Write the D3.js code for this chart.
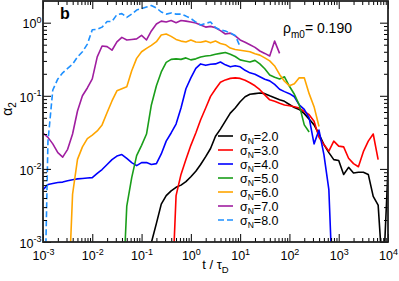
<!DOCTYPE html>
<html>
<head>
<meta charset="utf-8">
<script src="https://cdn.jsdelivr.net/npm/d3@7"></script>
<style>
body { margin: 0; background: #fff; }
svg text { font-family: "Liberation Sans", Arial, Helvetica, sans-serif; }
</style>
</head>
<body>
<div id="chart"></div>
<script>
// time grid t / tau_D (10 points per decade)
var times = [0.001,0.00126,0.00158,0.00200,0.00251,0.00316,0.00398,0.00501,0.00631,0.00794,
  0.0100,0.0126,0.0158,0.0200,0.0251,0.0316,0.0398,0.0501,0.0631,0.0794,
  0.100,0.126,0.158,0.200,0.251,0.316,0.398,0.501,0.631,0.794,
  1.00,1.26,1.58,2.00,2.51,3.16,3.98,5.01,6.31,7.94,
  10.0,12.6,15.8,20.0,25.1,31.6,39.8,50.1,63.1,79.4,
  100,126,158,200,251,316,398,501,631,794,
  1000,1259,1585,1995,2512,3162,3981,5012,6310,7943,
  10000];

// alpha_2 for each sigma_N (null = no data)
var sig20 = [null,null,null,null,null,null,null,null,null,null,
  null,null,null,null,null,null,null,null,null,null,
  null,null,0.00098,0.0018,0.0033,0.0043,0.0050,0.0056,0.0060,0.0067,
  0.0078,0.0093,0.0115,0.0147,0.019,0.028,0.035,0.045,0.058,0.068,
  0.083,0.097,0.105,0.107,0.109,0.107,0.100,0.094,0.088,0.084,
  0.076,0.069,0.065,0.057,0.048,0.040,0.030,0.0215,0.0167,0.0134,
  0.0130,0.0084,0.0105,0.0088,0.0090,0.0090,0.0084,0.0042,0.0032,0.0003,
  0.0098];
var sig30 = [null,null,null,null,null,null,null,null,null,null,
  null,null,null,null,null,null,null,null,null,null,
  null,null,null,null,null,null,0.0001,0.0043,0.0084,0.0134,
  0.021,0.031,0.047,0.068,0.098,0.124,0.153,0.165,0.173,0.176,
  0.173,0.163,0.151,0.137,0.121,0.103,0.088,0.084,0.079,0.075,
  0.073,0.071,0.068,0.061,0.055,0.045,0.027,0.0215,0.0175,0.024,
  0.0205,0.020,0.014,0.0118,0.0107,0.0172,0.024,0.030,0.0134,null,
  null];
var sig40 = [0.0052,0.0061,0.0063,0.0065,0.0066,0.0069,0.0071,0.0073,0.0074,0.0075,
  0.0076,0.0087,0.0098,0.0115,0.0134,0.0150,0.0157,0.0139,0.0122,0.0111,
  0.0122,0.0122,0.0115,0.0118,0.016,0.024,0.031,0.041,0.068,0.125,
  0.176,0.237,0.273,0.261,0.270,0.273,0.290,0.265,0.249,0.257,
  0.249,0.223,0.206,0.197,0.182,0.168,0.160,0.143,0.123,0.114,
  0.107,0.097,0.075,0.065,0.050,0.022,0.034,0.0157,0.0052,0.0001,
  null,null,null,null,null,null,null,null,null,null,
  null];
var sig50 = [null,null,null,null,null,null,null,null,null,null,
  null,null,null,null,null,null,0.0001,0.0031,0.0076,0.0152,
  0.021,0.030,0.075,0.137,0.212,0.287,0.315,0.320,0.315,0.330,
  0.310,0.320,0.340,0.350,0.355,0.370,0.380,0.390,0.370,0.345,
  0.310,0.300,0.290,0.305,0.273,0.234,0.193,0.179,0.170,0.182,
  0.135,0.105,0.075,0.040,0.032,null,null,null,null,null,
  null,null,null,null,null,null,null,null,null,null,
  null];
var sig60 = [null,null,null,null,null,0.0001,0.0045,0.0135,0.020,0.026,
  0.029,0.033,0.040,0.059,0.085,0.117,0.125,0.133,0.22,0.325,
  0.40,0.445,0.49,0.55,0.68,0.70,0.65,0.59,0.56,0.545,
  0.58,0.545,0.54,0.56,0.53,0.56,0.52,0.50,0.45,0.43,
  0.42,0.41,0.40,0.375,0.36,0.33,0.30,0.256,0.196,0.158,
  0.137,0.146,0.176,0.176,0.107,0.071,0.038,null,null,null,
  null,null,null,null,null,null,null,null,null,null,
  null];
var sig70 = [0.031,0.027,0.022,0.0167,0.0145,0.0185,0.030,0.062,0.100,0.128,
  0.170,0.34,0.48,0.47,0.42,0.545,0.63,0.58,0.59,0.60,
  0.67,0.58,0.77,0.96,1.05,1.02,1.07,1.00,1.07,1.05,
  1.02,0.99,0.93,0.87,0.89,0.85,0.78,0.70,0.72,0.66,
  0.58,0.54,0.50,0.46,0.41,0.38,0.35,0.56,0.38,null,
  null,null,null,null,null,null,null,null,null,null,
  null,null,null,null,null,null,null,null,null,null,
  null];
var sig80 = [0.00001,0.0237,0.12,0.17,0.206,0.237,0.27,0.34,0.40,0.51,
  0.80,0.81,0.87,1.04,1.04,1.29,1.33,1.18,1.31,1.49,
  1.56,1.64,1.72,1.59,1.40,1.31,1.36,1.31,1.31,1.23,
  1.14,1.02,0.93,0.98,1.02,0.86,0.795,0.77,0.72,0.67,
  0.47,null,null,null,null,null,null,null,null,null,
  null,null,null,null,null,null,null,null,null,null,
  null,null,null,null,null,null,null,null,null,null,
  null];

var sigmaLabels = ["2.0","3.0","4.0","5.0","6.0","7.0","8.0"];
var xTickExp = [-3,-2,-1,0,1,2,3,4];
var yTickExp = [-3,-2,-1,0];
var rhoValue = "0.190";

var allSeries = [sig20, sig30, sig40, sig50, sig60, sig70, sig80];
var colors = ["#000000","#ff0000","#0000ff","#1a9e1a","#ffa500","#a01ea0","#1e90ff"];
var dashes = [null,null,null,null,null,null,"6,3"];

var width = 399, height = 281;
var pLeft = 43, pRight = 388, pTop = 1, pBottom = 242;

var svg = d3.select("#chart").append("svg").attr("width", width).attr("height", height);

var x = d3.scaleLog().domain([1e-3, 1e4]).range([pLeft, pRight]);
var y = d3.scaleLog().domain([1e-3, 1.98]).range([pBottom, pTop]);

var xMajor = xTickExp.map(function(e){ return Math.pow(10, e); });
var yMajor = yTickExp.map(function(e){ return Math.pow(10, e); });
function isMajor(v){ return Math.abs(Math.log10(v) - Math.round(Math.log10(v))) < 1e-6; }
var xMinor = x.ticks().filter(function(v){ return !isMajor(v); });
var yMinor = y.ticks().filter(function(v){ return !isMajor(v) && v < 1.98; });

svg.append("clipPath").attr("id","clip").append("rect")
  .attr("x", pLeft).attr("y", pTop).attr("width", pRight-pLeft).attr("height", pBottom-pTop);

var line = d3.line()
  .defined(function(d){ return d[1] != null; })
  .x(function(d){ return x(d[0]); })
  .y(function(d){ return y(d[1]); });

var curves = svg.append("g").attr("clip-path","url(#clip)");
allSeries.forEach(function(vals, i){
  var pts = times.map(function(t, k){ return [t, vals[k]]; });
  curves.append("path").datum(pts)
    .attr("fill","none")
    .attr("stroke", colors[i])
    .attr("stroke-width", 1.6)
    .attr("stroke-dasharray", dashes[i])
    .attr("stroke-linejoin","round")
    .attr("d", line);
});

// axes, ticks inward on all four sides
function styleAxis(g){
  g.select(".domain").remove();
  g.selectAll(".tick line").attr("stroke","#000").attr("stroke-width",1);
}
svg.append("g").attr("transform","translate(0,"+pBottom+")")
  .call(d3.axisBottom(x).tickValues(xMinor).tickSize(-4).tickFormat("")).call(styleAxis);
svg.append("g").attr("transform","translate(0,"+pTop+")")
  .call(d3.axisTop(x).tickValues(xMinor).tickSize(-4).tickFormat("")).call(styleAxis);
svg.append("g").attr("transform","translate(0,"+pTop+")")
  .call(d3.axisTop(x).tickValues(xMajor).tickSize(-8).tickFormat("")).call(styleAxis);
svg.append("g").attr("transform","translate("+pLeft+",0)")
  .call(d3.axisLeft(y).tickValues(yMinor).tickSize(-4).tickFormat("")).call(styleAxis);
svg.append("g").attr("transform","translate("+pRight+",0)")
  .call(d3.axisRight(y).tickValues(yMinor).tickSize(-4).tickFormat("")).call(styleAxis);
svg.append("g").attr("transform","translate("+pRight+",0)")
  .call(d3.axisRight(y).tickValues(yMajor).tickSize(-8).tickFormat("")).call(styleAxis);

var xAx = svg.append("g").attr("transform","translate(0,"+pBottom+")")
  .call(d3.axisBottom(x).tickValues(xMajor).tickSize(-8).tickPadding(9.5).tickFormat(function(){ return ""; }))
  .call(styleAxis);
xAx.selectAll(".tick text").attr("font-size",12.5).attr("fill","#000")
  .each(function(d){
    var t = d3.select(this);
    t.append("tspan").text("10");
    t.append("tspan").attr("dy",-5.5).attr("font-size",9).text(Math.round(Math.log10(d)));
  });

var yAx = svg.append("g").attr("transform","translate("+pLeft+",0)")
  .call(d3.axisLeft(y).tickValues(yMajor).tickSize(-8).tickPadding(1.5).tickFormat(function(){ return ""; }))
  .call(styleAxis);
yAx.selectAll(".tick text").attr("font-size",12.5).attr("fill","#000")
  .attr("dy","0.42em")
  .each(function(d){
    var t = d3.select(this);
    t.append("tspan").text("10");
    t.append("tspan").attr("dy",-5.5).attr("font-size",9).text(Math.round(Math.log10(d)));
  });
svg.selectAll("g").attr("font-family", null);

svg.append("rect").attr("x",pLeft).attr("y",pTop).attr("width",pRight-pLeft).attr("height",pBottom-pTop)
  .attr("fill","none").attr("stroke","#222").attr("stroke-width",1.8);

// axis titles
var xt = svg.append("text").attr("x",(pLeft+pRight)/2).attr("y",269).attr("text-anchor","middle").attr("font-size",13);
xt.append("tspan").text("t / \u03c4");
xt.append("tspan").attr("dy",4).attr("font-size",9.5).text("D");

var yt = svg.append("text").attr("transform","translate(12,109) rotate(-90)").attr("text-anchor","middle").attr("font-size",14);
yt.append("tspan").text("\u03b1");
yt.append("tspan").attr("dy",4).attr("font-size",10).text("2");

svg.append("text").attr("x",60).attr("y",19).attr("font-size",16).attr("font-weight","bold").text("b");

var rt = svg.append("text").attr("x",283).attr("y",33).attr("font-size",14);
rt.append("tspan").text("\u03c1");
rt.append("tspan").attr("dy",4.5).attr("font-size",10).text("m0");
rt.append("tspan").attr("dy",-4.5).text("= " + rhoValue);

// legend
var leg = svg.append("g");
sigmaLabels.forEach(function(lab, i){
  var yy = 136 + 14*i;
  leg.append("line").attr("x1",218).attr("x2",233).attr("y1",yy).attr("y2",yy)
    .attr("stroke",colors[i]).attr("stroke-width",1.6).attr("stroke-dasharray",dashes[i]);
  var tx = leg.append("text").attr("x",240).attr("y",yy+4.5).attr("font-size",12.5);
  tx.append("tspan").text("\u03c3");
  tx.append("tspan").attr("dy",3).attr("font-size",8.5).text("N");
  tx.append("tspan").attr("dy",-3).text("=" + lab);
});
</script>
</body>
</html>
